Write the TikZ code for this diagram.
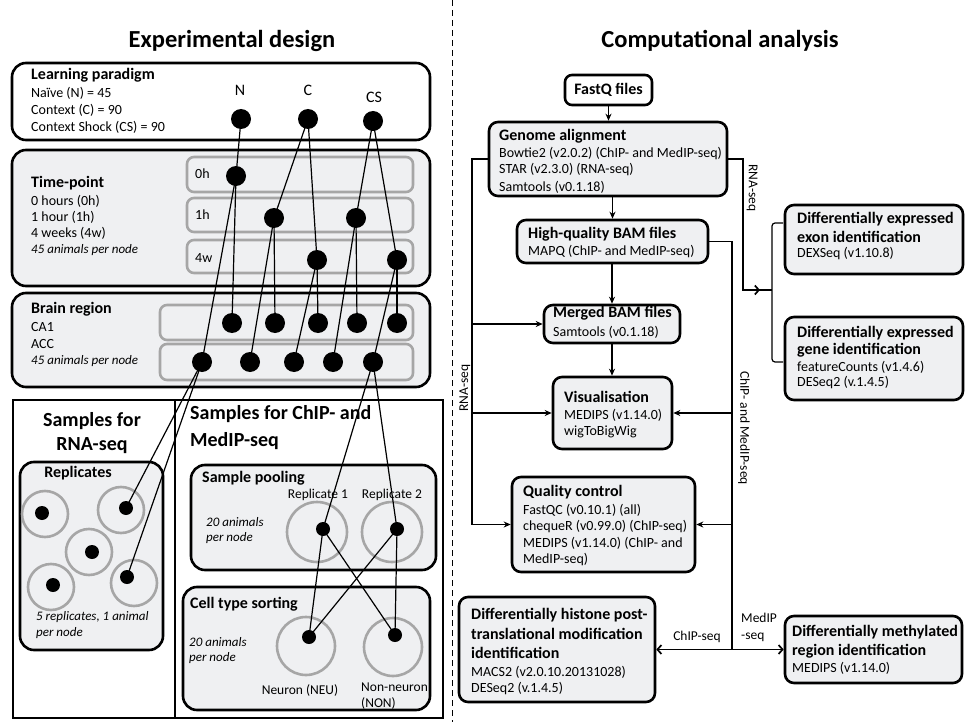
\documentclass[tikz,border=0pt]{standalone}
\usepackage{fontspec}
\setmainfont{Carlito}
\usetikzlibrary{arrows.meta}
\definecolor{boxgray}{HTML}{EFF0F2}
\definecolor{ringgray}{HTML}{A6A6A6}
\tikzset{
  bigbox/.style={draw=black, line width=2.6pt, rounded corners=14pt, fill=boxgray, inner sep=0, rectangle},
  whitebox/.style={bigbox, fill=white},
  smallbox/.style={bigbox, rounded corners=9pt},
  rowbox/.style={draw=ringgray, line width=2.6pt, rounded corners=7pt, fill=boxgray, inner sep=0, rectangle},
  sqbox/.style={draw=black, line width=2.8pt, inner sep=0, rectangle},
  bdot/.style={circle, fill=black, inner sep=0, minimum size=20pt},
  sdot/.style={circle, fill=black, inner sep=0, minimum size=14pt},
  ring/.style={circle, draw=ringgray, line width=2.6pt, inner sep=0},
  conn/.style={line width=1.2pt},
  flow/.style={line width=1.7pt},
  arr/.style={flow, -{Stealth[length=7pt,width=6pt]}},
  barb/.style={flow, -{Straight Barb[length=4pt,width=9pt]}},
  txt/.style={anchor=west, inner sep=0, font=\fontsize{14}{16}\selectfont},
  itx/.style={txt, font=\fontsize{13}{15}\selectfont\itshape},
  hd/.style={anchor=west, inner sep=0, font=\fontsize{16}{19}\selectfont\bfseries},
  ctx/.style={inner sep=0, font=\fontsize{13.5}{16}\selectfont},
  lbl/.style={inner sep=0, font=\fontsize{16}{19}\selectfont},
  big/.style={inner sep=0, font=\fontsize{20}{24}\selectfont\bfseries},
  title/.style={inner sep=0, font=\fontsize{24.5}{28}\selectfont\bfseries},
}
\begin{document}
\begin{tikzpicture}[x=1pt,y=-1pt]
\useasboundingbox (0,0) rectangle (966,722);
\fill[white] (0,0) rectangle (966,722);

% titles and divider
\node[title] (t1) at (232,41) {Experimental design};
\node[title] (t2) at (720,41) {Computational analysis};
\coordinate (dtop) at (452,0);
\coordinate (dbot) at (452,722);
\draw[line width=1pt, dash pattern=on 6pt off 4pt] (dtop) -- (dbot);

% ---------------- LEFT ----------------
% Learning paradigm
\node[whitebox, minimum width=418pt, minimum height=77pt] (lp) at (221,101.5) {};
\node[hd] (lph) at (31,75) {Learning paradigm};
\node[txt] (lp1) at (31,93) {Naïve (N) = 45};
\node[txt] (lp2) at (31,110) {Context (C) = 90};
\node[txt] (lp3) at (31,127) {Context Shock (CS) = 90};
\node[lbl] (lN) at (240,90) {N};
\node[lbl] (lC) at (308,90) {C};
\node[lbl] (lCS) at (374,97) {CS};

% Time-point
\node[bigbox, minimum width=418pt, minimum height=136pt] (tp) at (221,218) {};
\node[rowbox, minimum width=226pt, minimum height=35pt] (r0) at (300,174.5) {};
\node[rowbox, minimum width=226pt, minimum height=34pt] (r1) at (300,215) {};
\node[rowbox, minimum width=226pt, minimum height=33pt] (r4) at (300,256.5) {};
\node[hd] (tph) at (31,183) {Time-point};
\node[txt] (tp1) at (31,201) {0 hours (0h)};
\node[txt] (tp2) at (31,217) {1 hour (1h)};
\node[txt] (tp3) at (31,233) {4 weeks (4w)};
\node[itx] (tp4) at (31,250) {45 animals per node};
\node[txt] (r0l) at (195,174) {0h};
\node[txt] (r1l) at (195,215) {1h};
\node[txt] (r4l) at (195,258) {4w};

% Brain region
\node[bigbox, minimum width=418pt, minimum height=94pt] (br) at (221,340) {};
\node[rowbox, minimum width=253pt, minimum height=35pt] (rca) at (286.5,322.5) {};
\node[rowbox, minimum width=253pt, minimum height=36pt] (racc) at (286.5,362) {};
\node[hd] (brh) at (31,309) {Brain region};
\node[txt] (br1) at (31,327) {CA1};
\node[txt] (br2) at (31,344) {ACC};
\node[itx] (br3) at (31,361) {45 animals per node};

% Samples frames
\node[sqbox, minimum width=162pt, minimum height=318pt] (srna) at (94,559) {};
\node[sqbox, minimum width=268pt, minimum height=318pt] (schip) at (309,559) {};
\node[big] (sr1) at (92,421) {Samples for};
\node[big] (sr2) at (92,446) {RNA-seq};
\node[big, anchor=west] (sc1) at (190,414) {Samples for ChIP- and};
\node[big, anchor=west] (sc2) at (190,441) {MedIP-seq};

% Replicates
\node[bigbox, minimum width=143pt, minimum height=188pt] (rep) at (91.5,556) {};
\node[hd, anchor=center] (reph) at (78,473) {Replicates};
\node[ring, minimum size=46pt] (rg1) at (45,514) {};
\node[ring, minimum size=46pt] (rg2) at (121,510) {};
\node[ring, minimum size=46pt] (rg3) at (89,552) {};
\node[ring, minimum size=46pt] (rg4) at (51,587) {};
\node[ring, minimum size=46pt] (rg5) at (134,583) {};
\node[sdot] (q1) at (42,513) {};
\node[sdot] (q2) at (126,508) {};
\node[sdot] (q3) at (92,552) {};
\node[sdot] (q4) at (53,585) {};
\node[sdot] (q5) at (127,577) {};
\node[itx] (rep1) at (36,617) {5 replicates, 1 animal};
\node[itx] (rep2) at (36,633) {per node};

% Sample pooling
\node[bigbox, minimum width=245pt, minimum height=105pt] (pool) at (313.5,517.5) {};
\node[hd] (poolh) at (202,478) {Sample pooling};
\node[ctx] (pr1) at (318,495) {Replicate 1};
\node[ctx] (pr2) at (392,495) {Replicate 2};
\node[itx] (pl1) at (206,522) {20 animals};
\node[itx] (pl2) at (206,538) {per node};
\node[ring, minimum size=60pt] (prg1) at (317,532) {};
\node[ring, minimum size=60pt] (prg2) at (392,532) {};
\node[sdot] (p1) at (323,529) {};
\node[sdot] (p2) at (397,529) {};

% Cell type sorting
\node[bigbox, minimum width=247pt, minimum height=123pt] (sort) at (306.5,648.5) {};
\node[hd] (sorth) at (190,604) {Cell type sorting};
\node[itx] (so1) at (189,642) {20 animals};
\node[itx] (so2) at (189,658) {per node};
\node[ring, minimum size=58pt] (srg1) at (306,646) {};
\node[ring, minimum size=58pt] (srg2) at (393,647) {};
\node[sdot] (neu) at (309,637) {};
\node[sdot] (non) at (395,635) {};
\node[ctx] (neul) at (300,690) {Neuron (NEU)};
\node[ctx, anchor=west] (nonl1) at (361,687) {Non-neuron};
\node[ctx, anchor=west] (nonl2) at (361,703) {(NON)};

% dots
\node[bdot] (dn) at (241,119) {};
\node[bdot] (dc) at (308,119) {};
\node[bdot] (dcs) at (373,121) {};
\node[bdot] (t0) at (236,176) {};
\node[bdot] (t1a) at (274,218) {};
\node[bdot] (t1b) at (356,218) {};
\node[bdot] (t4a) at (317,260) {};
\node[bdot] (t4b) at (397,260) {};
\node[bdot] (a1) at (232,323) {};
\node[bdot] (a2) at (275,323) {};
\node[bdot] (a3) at (318,323) {};
\node[bdot] (a4) at (357,323) {};
\node[bdot] (a5) at (397,323) {};
\node[bdot] (b1) at (202,362) {};
\node[bdot] (b2) at (250,362) {};
\node[bdot] (b3) at (294,362) {};
\node[bdot] (b4) at (333,362) {};
\node[bdot] (b5) at (373,362) {};

% connectors
\draw[conn] (dn.center) -- (t0.center);
\draw[conn] (dc.center) -- (t1a.center);
\draw[conn] (dc.center) -- (t4a.center);
\draw[conn] (dcs.center) -- (t1b.center);
\draw[conn] (dcs.center) -- (t4b.center);
\draw[conn] (t0.center) -- (a1.center);
\draw[conn] (t0.center) -- (b1.center);
\draw[conn] (t1a.center) -- (a2.center);
\draw[conn] (t1a.center) -- (b2.center);
\draw[conn] (t4a.center) -- (a3.center);
\draw[conn] (t4a.center) -- (b3.center);
\draw[conn] (t1b.center) -- (a4.center);
\draw[conn] (t1b.center) -- (b4.center);
\draw[conn] (t4b.center) -- (a5.center);
\draw[conn] (t4b.center) -- (b5.center);
\draw[conn] (b1.center) -- (q2.center);
\draw[conn] (b1.center) -- (q5.center);
\draw[conn] (b5.center) -- (p1.center);
\draw[conn] (b5.center) -- (p2.center);
\draw[conn] (p1.center) -- (neu.center);
\draw[conn] (p1.center) -- (non.center);
\draw[conn] (p2.center) -- (neu.center);
\draw[conn] (p2.center) -- (non.center);

% ---------------- RIGHT ----------------
\node[whitebox, rounded corners=7pt, minimum width=87pt, minimum height=30pt, font=\fontsize{16}{19}\selectfont\bfseries] (fastq) at (608.5,90) {FastQ files};
\node[smallbox, minimum width=238pt, minimum height=74pt] (genome) at (608,159) {};
\node[hd] (gh) at (499,136) {Genome alignment};
\node[txt] (g1) at (499,154) {Bowtie2 (v2.0.2) (ChIP- and MedIP-seq)};
\node[txt] (g2) at (499,170) {STAR (v2.3.0) (RNA-seq)};
\node[txt] (g3) at (499,187) {Samtools (v0.1.18)};

\node[smallbox, minimum width=191pt, minimum height=43pt] (hq) at (612.5,241.5) {};
\node[hd] (hqh) at (528,234) {High-quality BAM files};
\node[txt] (hq1) at (528,252) {MAPQ (ChIP- and MedIP-seq)};

\node[smallbox, minimum width=136pt, minimum height=38pt] (merged) at (612,324) {};
\node[hd] (mh) at (553,313) {Merged BAM files};
\node[txt] (m1) at (553,332) {Samtools (v0.1.18)};

\node[smallbox, minimum width=119pt, minimum height=72pt] (vis) at (612.5,413) {};
\node[hd] (vh) at (564,397) {Visualisation};
\node[txt] (v1) at (564,415) {MEDIPS (v1.14.0)};
\node[txt] (v2) at (564,432) {wigToBigWig};

\node[smallbox, minimum width=183pt, minimum height=95pt] (qc) at (603.5,524.5) {};
\node[hd] (qh) at (523,492) {Quality control};
\node[txt] (qc1) at (523,510) {FastQC (v0.10.1) (all)};
\node[txt] (qc2) at (523,527) {chequeR (v0.99.0) (ChIP-seq)};
\node[txt] (qc3) at (523,543) {MEDIPS (v1.14.0) (ChIP- and};
\node[txt] (qc4) at (523,560) {MedIP-seq)};

\node[smallbox, minimum width=178pt, minimum height=69pt] (exon) at (874,239.5) {};
\node[hd] (eh1) at (797,219) {Differentially expressed};
\node[hd] (eh2) at (797,237) {exon identification};
\node[txt] (e1) at (797,254) {DEXSeq (v1.10.8)};

\node[smallbox, minimum width=178pt, minimum height=83pt] (gene) at (874,358.5) {};
\node[hd] (geh1) at (797,333) {Differentially expressed};
\node[hd] (geh2) at (797,350) {gene identification};
\node[txt] (ge1) at (797,367) {featureCounts (v1.4.6)};
\node[txt] (ge2) at (797,383) {DESeq2 (v.1.4.5)};

\node[smallbox, minimum width=196pt, minimum height=105pt] (hist) at (557,649.5) {};
\node[hd] (hh1) at (471,615) {Differentially histone post-};
\node[hd] (hh2) at (471,634) {translational modification};
\node[hd] (hh3) at (471,653) {identification};
\node[txt] (h1) at (471,672) {MACS2 (v2.0.10.20131028)};
\node[txt] (h2) at (471,689) {DESeq2 (v.1.4.5)};

\node[smallbox, minimum width=177pt, minimum height=67pt] (meth) at (873.5,649.5) {};
\node[hd] (mth1) at (792,632) {Differentially methylated};
\node[hd] (mth2) at (792,651) {region identification};
\node[txt] (mt1) at (792,668) {MEDIPS (v1.14.0)};

% flow connectors
\draw[arr] (fastq.south) -- (fastq.south |- genome.north);
\draw[arr] (genome.south -| hq.north) -- (hq.north);
\draw[arr] (hq.south -| merged.north) -- (merged.north);
\draw[arr] (merged.south) -- (merged.south |- vis.north);

\coordinate (lx) at (472,159);
\coordinate (lcorner) at (472,524.5);
\draw[flow] (genome.west) -- (lx) -- (lcorner);
\draw[arr] (lcorner) -- (qc.west);
\draw[arr] (lx |- merged.west) -- (merged.west);
\draw[arr] (lx |- vis.west) -- (vis.west);
\node[ctx, rotate=90] (lrna) at (465,388) {RNA-seq};

\coordinate (rx) at (743,159);
\coordinate (rb) at (743,290);
\coordinate (bm) at (772,290);
\coordinate (bt) at (783,223);
\coordinate (bb) at (783,362);
\coordinate (btip) at (760,290);
\draw[flow] (genome.east) -- (rx) -- (rb) -- (bm);
\draw[barb] (rb) -- (btip);
\draw[conn, rounded corners=3pt] (bt) -| (bm) |- (bb);
\node[ctx, rotate=-90] (rrna) at (752,188) {RNA-seq};

\coordinate (cx) at (732,241.5);
\coordinate (cm) at (732,649.5);
\draw[flow] (hq.east) -- (cx) -- (cm);
\draw[arr] (cx |- vis.east) -- (vis.east);
\draw[arr] (cx |- qc.east) -- (qc.east);
\draw[barb] (cm) -- (hist.east);
\draw[barb] (cm) -- (meth.west);
\node[ctx, rotate=-90] (cml) at (744,428) {ChIP- and MedIP-seq};
\node[ctx] (chipl) at (697,637) {ChIP-seq};
\node[ctx, anchor=west] (medl1) at (741,618) {MedIP};
\node[ctx, anchor=west] (medl2) at (741,637) {-seq};
\end{tikzpicture}
\end{document}
